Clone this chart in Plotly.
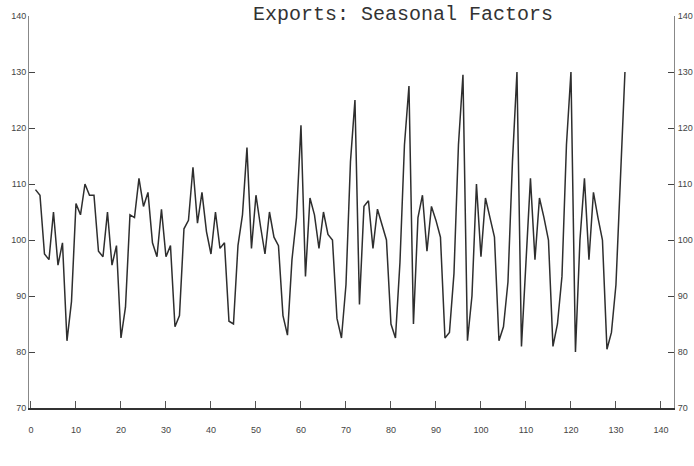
import plotly.graph_objects as go

months = list(range(1, 133))
factors = [
    109, 108, 97.5, 96.5, 105, 95.5, 99.5, 82, 89, 106.5, 104.5, 110,
    108, 108, 98, 97, 105, 95.5, 99, 82.5, 88, 104.5, 104, 111,
    106, 108.5, 99.5, 97, 105.5, 97, 99, 84.5, 86.5, 102, 103.5, 113,
    103, 108.5, 101.5, 97.5, 105, 98.5, 99.5, 85.5, 85, 99, 104.5, 116.5,
    98.5, 108, 102.5, 97.5, 105, 100.5, 99, 86.5, 83, 96.5, 104, 120.5,
    93.5, 107.5, 104.5, 98.5, 105, 101, 100, 86, 82.5, 92, 114, 125,
    88.5, 106, 107, 98.5, 105.5, 102.5, 100, 85, 82.5, 96, 117, 127.5,
    85, 104, 108, 98, 106, 103.5, 100.5, 82.5, 83.5, 94, 117, 129.5,
    82, 90, 110, 97, 107.5, 104, 100.5, 82, 84.5, 92.5, 114, 130,
    81, 96, 111, 96.5, 107.5, 104, 100, 81, 85, 93.5, 117, 130,
    80, 100, 111, 96.5, 108.5, 104, 100, 80.5, 83.5, 92, 111, 130,
]
x_ticks = [0, 10, 20, 30, 40, 50, 60, 70, 80, 90, 100, 110, 120, 130, 140]
y_ticks = [70, 80, 90, 100, 110, 120, 130, 140]
title_text = "Exports: Seasonal Factors"

fig = go.Figure()
fig.add_trace(go.Scatter(x=months, y=factors, mode="lines",
                         line=dict(color="#2e2e2e", width=1.5),
                         showlegend=False, hoverinfo="skip"))
fig.add_trace(go.Scatter(x=months, y=factors, mode="lines", yaxis="y2",
                         line=dict(color="rgba(0,0,0,0)", width=0),
                         showlegend=False, hoverinfo="skip"))

tickfont = dict(family="Liberation Sans, Arial, sans-serif", size=9, color="#444")

fig.update_layout(
    width=694, height=466,
    margin=dict(l=29, r=20, t=16, b=58),
    paper_bgcolor="white", plot_bgcolor="white",
    title=dict(text=title_text, x=0.58, xref="paper", xanchor="center",
               y=1 - 13 / 466, yref="container", yanchor="middle",
               font=dict(family="Liberation Mono, Courier New, monospace", size=20, color="#333")),
    xaxis=dict(range=[-0.44, 142.9], tickvals=x_ticks, ticks="inside", ticklen=7,
               tickcolor="#555", tickwidth=1, showline=True, linecolor="#333", linewidth=1.5,
               showgrid=False, zeroline=False, mirror=False, tickfont=tickfont,
               ticklabelstandoff=12, automargin=False),
    yaxis=dict(range=[70, 140], tickvals=y_ticks, ticks="inside", ticklen=6,
               tickcolor="#444", tickwidth=1, showline=True, linecolor="#888", linewidth=1,
               showgrid=False, zeroline=False, tickfont=tickfont, automargin=False),
    yaxis2=dict(range=[70, 140], tickvals=y_ticks, overlaying="y", side="right",
                ticks="inside", ticklen=6, tickcolor="#444", tickwidth=1,
                showline=True, linecolor="#888", linewidth=1, showgrid=False,
                zeroline=False, tickfont=tickfont, ticklabelstandoff=1,
                automargin=False),
)

fig.write_html("out.html")
